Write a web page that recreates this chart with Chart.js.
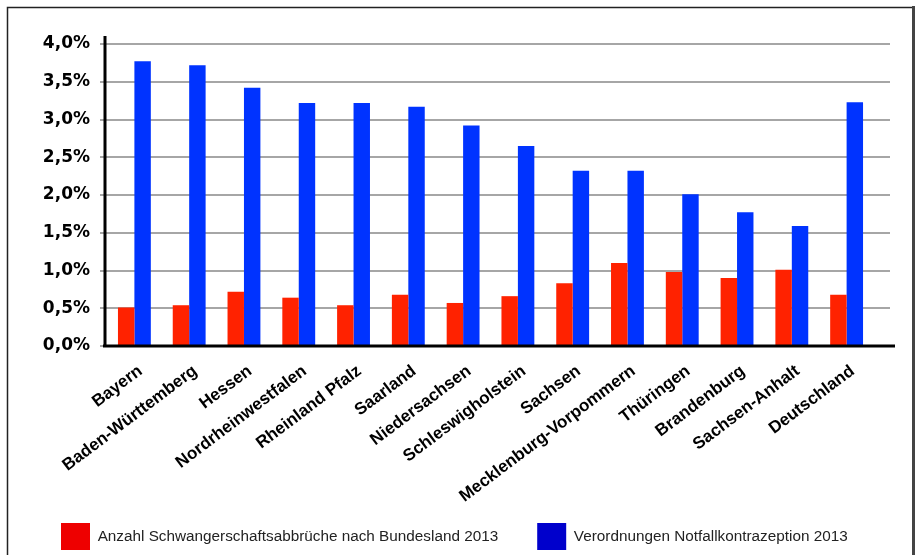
<!DOCTYPE html>
<html>
<head>
<meta charset="utf-8">
<script src="https://cdn.jsdelivr.net/npm/chart.js@4/dist/chart.umd.min.js"></script>
<style>
  html, body { margin: 0; padding: 0; background: #fff; overflow: hidden; }
  #wrap { width: 921px; height: 560px; position: relative; }
</style>
</head>
<body>
<div id="wrap"><canvas id="chart"></canvas></div>
<script>
const bundeslaender = [
  'Bayern', 'Baden-Württemberg', 'Hessen', 'Nordrheinwestfalen', 'Rheinland Pfalz',
  'Saarland', 'Niedersachsen', 'Schleswigholstein', 'Sachsen', 'Mecklenburg-Vorpommern',
  'Thüringen', 'Brandenburg', 'Sachsen-Anhalt', 'Deutschland'
]
const abbrueche = [0.51, 0.54, 0.72, 0.64, 0.54, 0.68, 0.57, 0.66, 0.83, 1.10, 0.98, 0.90, 1.01, 0.68]
const notfallkontrazeption = [3.77, 3.72, 3.42, 3.22, 3.22, 3.17, 2.92, 2.65, 2.32, 2.32, 2.01, 1.77, 1.59, 3.23]
const yTicks = [0, 0.5, 1, 1.5, 2, 2.5, 3, 3.5, 4]

const labelAbbrueche = 'Anzahl Schwangerschaftsabbrüche nach Bundesland 2013'
const labelNotfall   = 'Verordnungen Notfallkontrazeption 2013'

// gridlines, axes and the outer frame are drawn by hand: they run past the plot area
const rahmen = {
  id: 'rahmen',
  afterLayout(chart) {
    // long rotated names reach down beside the legend, don't cut them off
    chart.scales.x.bottom = chart.height
  },
  beforeDatasetsDraw(chart) {
    const { ctx, chartArea, scales: { y } } = chart
    ctx.save()
    ctx.strokeStyle = '#a6a6a6'
    ctx.lineWidth = 2
    yTicks.forEach(v => {
      const py = Math.round(y.getPixelForValue(v))
      ctx.beginPath()
      ctx.moveTo(chartArea.left - 7, py)
      ctx.lineTo(chartArea.right + 16, py)
      ctx.stroke()
    })
    ctx.restore()
  },
  afterDatasetsDraw(chart) {
    const { ctx, chartArea, scales: { y } } = chart
    const y0 = y.getPixelForValue(0)
    ctx.save()
    ctx.strokeStyle = '#000'
    ctx.lineWidth = 3
    ctx.beginPath()
    ctx.moveTo(chartArea.left - 2, y.getPixelForValue(4) - 8)
    ctx.lineTo(chartArea.left - 2, y0 + 1)
    ctx.moveTo(chartArea.left - 4, y0)
    ctx.lineTo(chartArea.right + 21, y0)
    ctx.stroke()

    // frame round the picture
    ctx.lineWidth = 1.5
    ctx.strokeStyle = '#222'
    ctx.beginPath()
    ctx.moveTo(7.5, chart.height)
    ctx.lineTo(7.5, 7.5)
    ctx.lineTo(913, 7.5)
    ctx.stroke()
    ctx.lineWidth = 3
    ctx.strokeStyle = '#444'
    ctx.beginPath()
    ctx.moveTo(913.5, 6)
    ctx.lineTo(913.5, chart.height)
    ctx.stroke()
    ctx.restore()
  }
}

new Chart(document.getElementById('chart'), {
  type: 'bar',
  data: {
    labels: bundeslaender,
    datasets: [
      {
        label: labelAbbrueche,
        data: abbrueche,
        backgroundColor: '#ff2200',
        legendColor: '#ee0000'
      },
      {
        label: labelNotfall,
        data: notfallkontrazeption,
        backgroundColor: '#0033ff',
        legendColor: '#0000cc'
      }
    ]
  },
  options: {
    responsive: true,
    maintainAspectRatio: false,
    animation: false,
    datasets: {
      bar: { categoryPercentage: 0.6, barPercentage: 1.0 }
    },
    layout: {
      padding: { top: 44, right: 0, bottom: 0, left: 22 }
    },
    plugins: {
      tooltip: { enabled: false },
      legend: {
        position: 'bottom',
        align: 'start',
        labels: {
          boxWidth: 29,
          boxHeight: 27,
          padding: 39,
          color: '#222',
          font: { family: '"Liberation Sans", Arial, sans-serif', size: 15.3 },
          generateLabels(chart) {
            return chart.data.datasets.map((ds, i) => ({
              text: ds.label,
              fillStyle: ds.legendColor,
              strokeStyle: ds.legendColor,
              lineWidth: 0,
              fontColor: '#222',
              datasetIndex: i
            }))
          }
        }
      }
    },
    scales: {
      x: {
        grid: { display: false },
        border: { display: false },
        ticks: {
          color: '#000',
          minRotation: 37,
          maxRotation: 37,
          autoSkip: false,
          padding: 7,
          labelOffset: 6,
          font: { family: '"Liberation Sans", Arial, sans-serif', size: 17, weight: 'bold' }
        },
        afterFit(scale) { scale.height = 138 }
      },
      y: {
        min: 0,
        max: 4,
        grid: { display: false, drawTicks: false },
        border: { display: false },
        ticks: {
          stepSize: 0.5,
          padding: 17,
          color: '#000',
          font: { family: '"DejaVu Sans", sans-serif', size: 17, weight: 'bold' },
          callback: v => v.toFixed(1).replace('.', ',') + '%'
        },
        afterFit(scale) { scale.width = 85 }
      },
      // empty right axis, only keeps the plot area off the right edge
      rand: {
        type: 'linear',
        position: 'right',
        display: true,
        grid: { display: false, drawTicks: false },
        border: { display: false },
        ticks: { display: false },
        afterFit(scale) { scale.width = 47 }
      }
    }
  },
  plugins: [rahmen]
})
</script>
</body>
</html>
